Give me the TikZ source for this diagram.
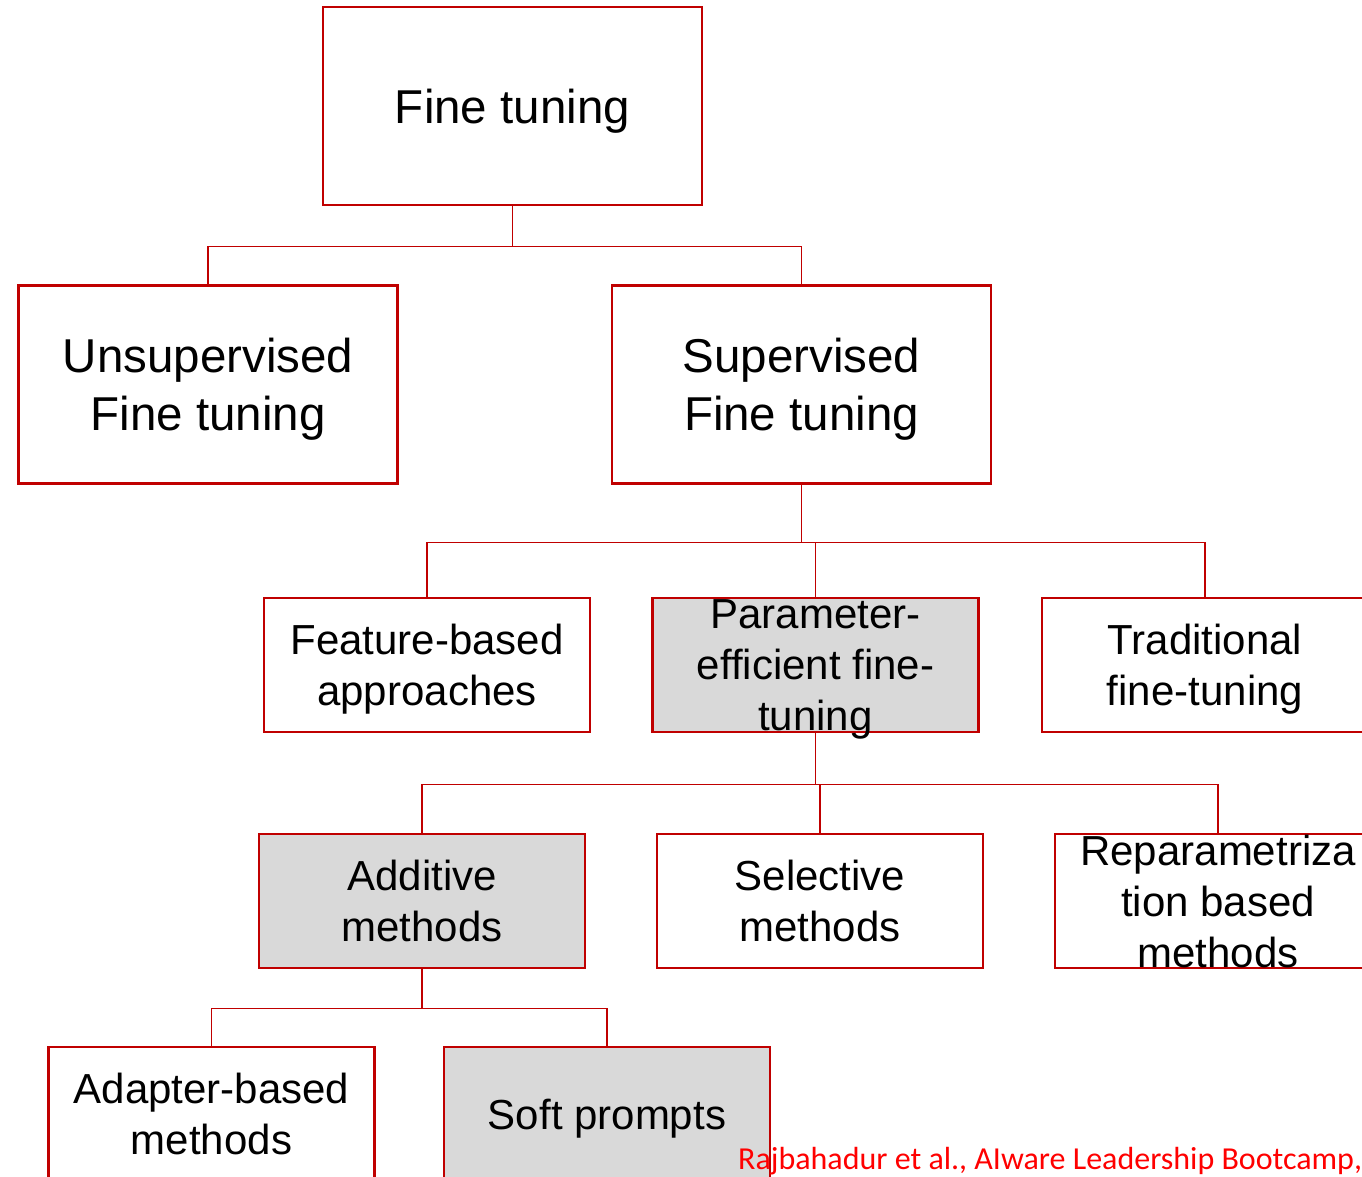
\documentclass[tikz,border=0pt]{standalone}
\usepackage{fontspec}
\setmainfont{Liberation Sans}
\newfontfamily\notefont{Carlito}
\usepackage{tikz}
\usetikzlibrary{positioning}

\definecolor{boxred}{HTML}{C00000}
\definecolor{boxgrey}{HTML}{D9D9D9}
\definecolor{notered}{HTML}{FF0000}

% text depth is trimmed so the lines sit a little below the middle
\tikzset{
  box/.style={draw=boxred, line width=2.4pt, fill=white, inner sep=0pt,
    align=center, minimum width=326pt, minimum height=134pt,
    text depth=-1.2pt, font=\fontsize{42}{51}\selectfont},
  bigbox/.style={box, minimum width=379pt, minimum height=198pt,
    text depth=-2.5pt, font=\fontsize{47.5}{58}\selectfont},
  greybox/.style={box, fill=boxgrey},
  txt/.style={align=center, inner sep=0pt, font=\fontsize{42}{51}\selectfont},
  link/.style={draw=boxred, line width=1.3pt}
}

\begin{document}
\begin{tikzpicture}[x=1pt, y=-1pt]
  \useasboundingbox (0,0) rectangle (1362,1177);
  \clip (0,0) rectangle (1362,1177);

  \node[bigbox] (ft) at (512.5,106) {Fine tuning};
  \node[bigbox] (unsup) at (208,384.5) {Unsupervised\\Fine tuning};
  \node[bigbox] (sup) at (801.5,384.5) {Supervised\\Fine tuning};

  \node[box] (feat) at (427,665) {Feature-based\\approaches};
  \node[greybox, label={[txt, text depth=-8pt]center:Parameter-\\efficient fine-\\tuning}] (peft) at (815.5,665) {};
  \node[box] (trad) at (1205,665) {Traditional\\fine-tuning};

  \node[greybox, text depth=-5.5pt] (add) at (422,901) {Additive\\methods};
  \node[box, text depth=-5.5pt] (sel) at (820,901) {Selective\\methods};
  \node[box, label={[txt, text depth=-5.5pt]center:Reparametriza\\tion based\\methods}] (repar) at (1218,901) {};

  \node[box, text depth=-5pt] (adapt) at (211.5,1114) {Adapter-based\\methods};
  \node[greybox, text depth=-8pt] (soft) at (607,1114) {Soft prompts};

  % elbow links from each parent down to its children
  \draw[link] (ft.south) -- ++(0,40) -| (unsup.north);
  \draw[link] (ft.south) -- ++(0,40) -| (sup.north);

  \draw[link] (sup.south) -- ++(0,57.5) -| (feat.north);
  \draw[link] (sup.south) -- ++(0,57.5) -| (peft.north);
  \draw[link] (sup.south) -- ++(0,57.5) -| (trad.north);

  \draw[link] (peft.south) -- ++(0,51) -| (add.north);
  \draw[link] (peft.south) -- ++(0,51) -| (sel.north);
  \draw[link] (peft.south) -- ++(0,51) -| (repar.north);

  \draw[link] (add.south) -- ++(0,39.5) -| (adapt.north);
  \draw[link] (add.south) -- ++(0,39.5) -| (soft.north);

  \node[anchor=base west, inner sep=0pt, text=notered,
    font=\notefont\fontsize{32}{38}\selectfont] (cite) at (738,1169)
    {Rajbahadur et al., AIware Leadership Bootcamp,};
\end{tikzpicture}
\end{document}
